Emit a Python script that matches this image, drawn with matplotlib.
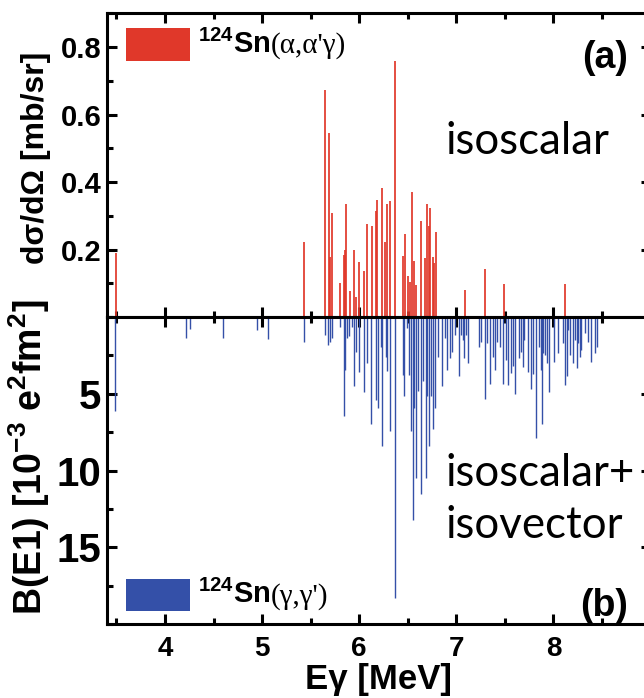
import matplotlib
matplotlib.use("Agg")
import matplotlib.pyplot as plt
from matplotlib.patches import Rectangle
from matplotlib.ticker import MultipleLocator, FixedLocator
from matplotlib.offsetbox import TextArea, HPacker, AnchoredOffsetbox

plt.rcParams['mathtext.fontset'] = 'custom'
plt.rcParams['mathtext.rm'] = 'Liberation Sans'
plt.rcParams['mathtext.bf'] = 'Liberation Sans:bold'
plt.rcParams['font.family'] = ['Liberation Sans', 'DejaVu Sans']

# ---------------- data ----------------
# (alpha,alpha'gamma) cross sections [mb/sr]
alpha_E = [3.495, 5.435, 5.648, 5.686, 5.699, 5.717, 5.805, 5.840, 5.854, 5.867,
           5.902, 5.950, 5.967, 5.998, 6.053, 6.083, 6.129, 6.170, 6.186, 6.235,
           6.266, 6.283, 6.320, 6.369, 6.451, 6.469, 6.503, 6.520, 6.547, 6.561,
           6.585, 6.633, 6.681, 6.701, 6.716, 6.726, 6.763, 6.770, 6.791, 7.090,
           7.296, 7.491, 8.119]
alpha_xs = [0.19, 0.221, 0.673, 0.546, 0.177, 0.307, 0.100, 0.183, 0.199, 0.334,
            0.078, 0.199, 0.058, 0.164, 0.137, 0.276, 0.270, 0.313, 0.347, 0.381,
            0.221, 0.334, 0.344, 0.758, 0.181, 0.245, 0.121, 0.103, 0.369, 0.167,
            0.095, 0.284, 0.176, 0.336, 0.271, 0.322, 0.179, 0.159, 0.251, 0.080,
            0.141, 0.097, 0.097]

# (gamma,gamma') B(E1) strengths [1e-3 e^2 fm^2]
gamma_E = [3.49, 4.216, 4.257, 4.600, 4.951, 5.058, 5.435, 5.648, 5.682, 5.699,
           5.717, 5.807, 5.841, 5.854, 5.871, 5.898, 5.923, 5.948, 5.964, 6.001,
           6.053, 6.085, 6.124, 6.173, 6.190, 6.224, 6.240, 6.276, 6.289, 6.322,
           6.369, 6.450, 6.465, 6.489, 6.515, 6.532, 6.557, 6.568, 6.585, 6.609,
           6.636, 6.660, 6.685, 6.701, 6.721, 6.739, 6.763, 6.784, 6.815, 6.850,
           6.884, 6.906, 6.935, 6.953, 6.987, 7.028, 7.048, 7.066, 7.084, 7.105,
           7.124, 7.234, 7.257, 7.296, 7.320, 7.346, 7.375, 7.403, 7.422, 7.450,
           7.486, 7.507, 7.536, 7.559, 7.582, 7.607, 7.641, 7.666, 7.687, 7.702,
           7.743, 7.766, 7.787, 7.821, 7.847, 7.869, 7.880, 7.898, 7.914, 7.937,
           7.958, 8.006, 8.044, 8.102, 8.119, 8.137, 8.150, 8.171, 8.205, 8.222,
           8.240, 8.253, 8.274, 8.289, 8.325, 8.360, 8.385, 8.428, 8.444]
gamma_BE1 = [6.1, 1.39, 0.78, 1.39, 0.84, 1.45, 1.64, 1.17, 1.82, 1.60,
             1.39, 0.63, 6.43, 3.44, 1.39, 1.21, 0.63, 4.52, 2.25, 3.59,
             4.89, 3.00, 6.95, 5.39, 5.93, 1.93, 8.42, 2.58, 3.55, 7.45,
             18.33, 3.77, 5.17, 0.74, 3.77, 7.45, 13.2, 5.93, 10.47, 4.85,
             11.56, 4.20, 10.47, 5.17, 8.42, 5.17, 7.29, 5.93, 2.58, 4.52,
             1.39, 3.44, 2.69, 2.25, 1.17, 3.87, 1.17, 1.49, 2.69, 1.17,
             3.00, 1.93, 1.60, 5.35, 1.71, 4.37, 2.58, 3.44, 1.60, 1.93,
             4.35, 2.79, 4.40, 3.66, 3.16, 5.00, 2.70, 2.25, 3.23, 1.50,
             3.60, 4.70, 3.70, 7.90, 1.93, 3.44, 6.95, 2.36, 2.47, 3.00,
             4.89, 2.90, 2.36, 1.71, 4.46, 3.87, 0.84, 2.50, 3.00, 1.49,
             3.33, 1.71, 2.58, 2.14, 1.06, 1.60, 2.90, 2.36, 1.93]

x_ticks = [4, 5, 6, 7, 8]
top_yticks = [0.2, 0.4, 0.6, 0.8]
bot_yticks = [5, 10, 15]

RED = '#e0382a'
BLUE = '#3450a8'

# ---------------- figure ----------------
W, H = 644, 698
fig = plt.figure(figsize=(W / 100, H / 100), dpi=100)

def fx(px):
    return px / W

def fy(py):
    return 1 - py / H

L, R = 106.7, 650.5
ytop, ymid, ybot = 13.3, 317.0, 624.0
ax1 = fig.add_axes([fx(L), fy(ymid), fx(R) - fx(L), fy(ytop) - fy(ymid)])
ax2 = fig.add_axes([fx(L), fy(ybot), fx(R) - fx(L), fy(ymid) - fy(ybot)])

ax1.vlines(alpha_E, 0, alpha_xs, color=RED, lw=1.25)
ax2.vlines(gamma_E, 0, gamma_BE1, color=BLUE, lw=1.0)

ax1.set_xlim(3.4, 9.0)
ax2.set_xlim(3.4, 9.0)
ax1.set_ylim(0, 0.9)
ax2.set_ylim(20, 0)

for ax in (ax1, ax2):
    for s in ax.spines.values():
        s.set_linewidth(2.2)
    ax.xaxis.set_major_locator(FixedLocator(x_ticks))
    ax.xaxis.set_minor_locator(MultipleLocator(0.5))
    ax.tick_params(which='both', direction='in', top=True, right=True,
                   width=2.2)
    ax.tick_params(which='major', length=7)
    ax.tick_params(which='minor', length=4.5)

ax1.yaxis.set_major_locator(FixedLocator(top_yticks))
ax1.yaxis.set_minor_locator(MultipleLocator(0.1))
ax1.tick_params(axis='x', labelbottom=False)
ax1.tick_params(axis='y', labelsize=21, pad=4)
for t in ax1.get_yticklabels():
    t.set_fontweight('bold')

ax2.yaxis.set_major_locator(FixedLocator(bot_yticks))
ax2.yaxis.set_minor_locator(MultipleLocator(2.5))
ax2.tick_params(axis='y', labelsize=29, pad=4)
ax2.tick_params(axis='x', labelsize=20, pad=9)
for t in ax2.get_yticklabels() + ax2.get_xticklabels():
    t.set_fontweight('bold')

ax1.set_ylabel('dσ/dΩ [mb/sr]', fontsize=23, fontweight='bold')
ax1.yaxis.set_label_coords(-0.102, 0.525)
ax2.set_ylabel(r'B(E1) [10$^{\mathbf{-3}}$ e$^{\mathbf{2}}$fm$^{\mathbf{2}}$]',
               fontsize=27, fontweight='bold')
ax2.yaxis.set_label_coords(-0.100, 0.544)
ax2.set_xlabel('Eγ [MeV]', fontsize=25, fontweight='bold', labelpad=0)

# panel labels
ax1.text(fx(628), fy(68), '(a)', transform=fig.transFigure, ha='right',
         va='baseline', fontsize=27, fontweight='bold')
ax2.text(fx(628), fy(616), '(b)', transform=fig.transFigure, ha='right',
         va='baseline', fontsize=27, fontweight='bold')

# annotations
ax1.text(fx(446), fy(154), 'isoscalar', transform=fig.transFigure,
         fontsize=31.5, family='Lato', va='baseline')
ax2.text(fx(446), fy(486), 'isoscalar+', transform=fig.transFigure,
         fontsize=31.5, family='Lato', va='baseline')
ax2.text(fx(446), fy(538), 'isovector', transform=fig.transFigure,
         fontsize=31.5, family='Lato', va='baseline')

# legends
def legend(ax, color, y0, y1, reaction):
    rect = Rectangle((fx(126), fy(y1)), fx(190) - fx(126), fy(y0) - fy(y1),
                     transform=fig.transFigure, facecolor=color,
                     edgecolor='none')
    fig.add_artist(rect)
    t1 = TextArea(r'$^{\mathbf{124}}$Sn',
                  textprops=dict(fontsize=21, fontweight='bold',
                                 family='Liberation Sans'))
    t2 = TextArea(reaction, textprops=dict(fontsize=21,
                                           family='Liberation Serif'))
    box = HPacker(children=[t1, t2], align='baseline', pad=0, sep=0)
    anc = AnchoredOffsetbox(loc='center left', child=box, frameon=False,
                            bbox_to_anchor=(fx(198), fy((y0 + y1) / 2)),
                            bbox_transform=fig.transFigure, borderpad=0, pad=0)
    fig.add_artist(anc)

legend(ax1, RED, 28, 61, "(α,α'γ)")
legend(ax2, BLUE, 579, 611, "(γ,γ')")

fig.savefig('out.png', dpi=100)
